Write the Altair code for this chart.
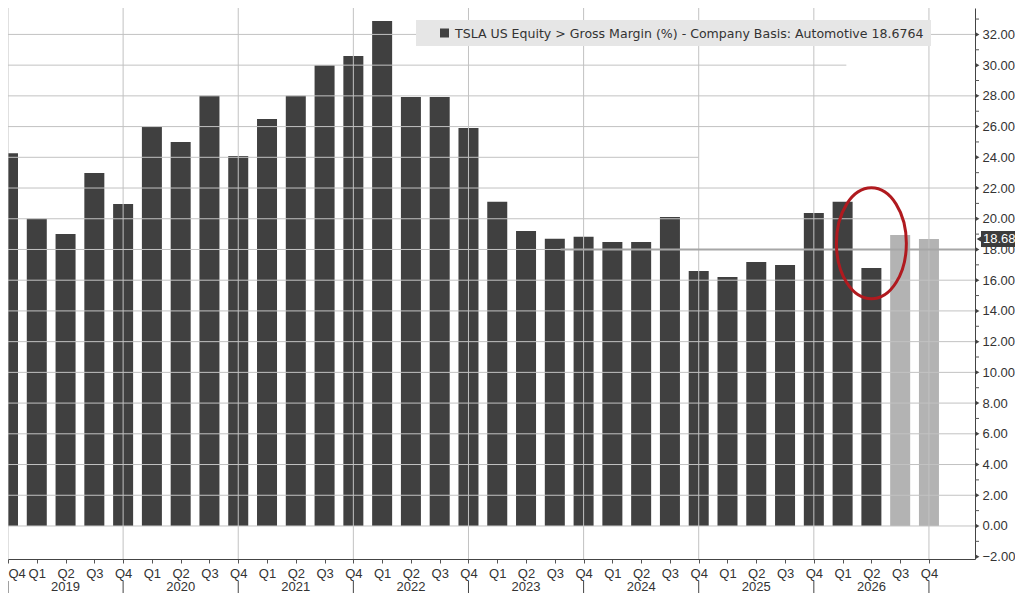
import altair as alt
import pandas as pd

# ---------------- data ----------------
quarters = ["Q4",
            "Q1", "Q2", "Q3", "Q4",
            "Q1", "Q2", "Q3", "Q4",
            "Q1", "Q2", "Q3", "Q4",
            "Q1", "Q2", "Q3", "Q4",
            "Q1", "Q2", "Q3", "Q4",
            "Q1", "Q2", "Q3", "Q4",
            "Q1", "Q2", "Q3", "Q4",
            "Q1", "Q2", "Q3", "Q4"]
margins = [24.26,
           20.0, 19.0, 22.98, 20.96,
           25.98, 25.0, 28.0, 24.09,
           26.5, 28.0, 30.0, 30.6,
           32.88, 27.93, 27.93, 25.9,
           21.1, 19.2, 18.7, 18.83,
           18.49, 18.49, 20.12, 16.6,
           16.21, 17.19, 16.99, 20.38,
           21.1, 16.8, 18.95, 18.6764]
kinds = ["Actual"] * 31 + ["Estimate"] * 2
years = ["2019", "2020", "2021", "2022", "2023", "2024", "2025", "2026"]
year_centers = [2, 6, 10, 14, 18, 22, 26, 30]
year_separators = [0, 4, 8, 12, 16, 20, 24, 28, 32]
grid_levels = [0, 2, 4, 6, 8, 10, 12, 14, 16, 18, 20, 22, 24, 26, 28, 30, 32]
grid_partial_end = {30: 29.13, 24: 23.99}
major_ticks = [-2, 0, 2, 4, 6, 8, 10, 12, 14, 16, 18, 20, 22, 24, 26, 28, 30, 32]
minor_ticks = [-1, 1, 3, 5, 7, 9, 11, 13, 15, 17, 19, 21, 23, 25, 27, 29, 31, 33]
last_value = 18.6764
legend_text = "TSLA US Equity > Gross Margin (%) - Company Basis: Automotive  18.6764"

# ---------------- layout ----------------
W, H = 967, 551
X_MIN, X_MAX = 0.0, 33.6
Y_MIN, Y_MAX = -2.15, 33.72
HALF = 0.3475
FONT = "Liberation Sans, Arial, sans-serif"
LFONT = "DejaVu Sans, sans-serif"
TXT = "#333333"

xs = alt.Scale(domain=[X_MIN, X_MAX], nice=False, zero=False)
ys = alt.Scale(domain=[Y_MIN, Y_MAX], nice=False, zero=False)

df = pd.DataFrame({"idx": list(range(len(margins))), "q": quarters,
                   "value": margins, "kind": kinds})
df["x0"] = df["idx"] - HALF
df["x1"] = df["idx"] + HALF

grid_df = pd.DataFrame({"level": grid_levels})
grid_df["start"] = X_MIN
grid_df["end"] = [grid_partial_end.get(l, X_MAX) for l in grid_levels]

label_arr = "[" + ",".join("'%s'" % q for q in quarters) + "]"

x_axis = alt.Axis(values=list(range(len(quarters))), labelExpr=label_arr + "[datum.value]",
                  orient="bottom", tickSize=4, tickColor="#555555", domainColor="#444444",
                  labelFont=FONT, labelFontSize=13, labelColor=TXT, labelPadding=4,
                  grid=False, title=None, labelFlush=False, labelOverlap=False,
                  labelAlign={"condition": {"test": "datum.value == 0", "value": "left"},
                              "value": "center"})
y_axis = alt.Axis(values=major_ticks, format=".2f", orient="right", tickSize=0,
                  labelPadding=7, domainColor="#444444", grid=False, title=None,
                  labelFont=FONT, labelFontSize=13, labelColor=TXT, labelFlush=False,
                  labelOverlap=False)


def X(field):
    return alt.X(field, scale=xs, axis=x_axis)


def Y(field):
    return alt.Y(field, scale=ys, axis=y_axis)


bars = alt.Chart(df).mark_bar(clip=True).encode(
    x=X("x0:Q"),
    x2="x1:Q",
    y=Y("value:Q"),
    y2=alt.datum(0),
    color=alt.Color("kind:N", scale=alt.Scale(domain=["Actual", "Estimate"],
                                              range=["#404040", "#b3b3b3"]), legend=None))

hgrid = alt.Chart(grid_df).mark_rule(color="#c2c2c2", strokeWidth=1).encode(
    x=X("start:Q"), x2="end:Q", y=Y("level:Q"))

vgrid = alt.Chart(pd.DataFrame({"s": year_separators})).mark_rule(
    color="#c2c2c2", strokeWidth=1).encode(
    x=X("s:Q"), y=alt.value(0), y2=alt.value(H))

line18 = alt.Chart(pd.DataFrame({"a": [19.2], "b": [X_MAX], "v": [18]})).mark_rule(
    color="#a6a6a6", strokeWidth=2).encode(
    x=X("a:Q"), x2="b:Q", y=Y("v:Q"))

year_txt = alt.Chart(pd.DataFrame({"c": year_centers, "y": years})).mark_text(
    font=FONT, fontSize=13, color=TXT, baseline="middle", align="center").encode(
    x=X("c:Q"), y=alt.value(H + 28), text="y:N")

seps = alt.Chart(pd.DataFrame({"s": year_separators})).mark_rule(
    color="#444444", strokeWidth=1).encode(
    x=X("s:Q"), y=alt.value(H + 22), y2=alt.value(H + 34))

minor = alt.Chart(pd.DataFrame({"v": minor_ticks})).mark_rule(
    color="#555555", strokeWidth=1).encode(
    x=alt.value(W), x2=alt.value(W + 4), y=Y("v:Q"))

major = alt.Chart(pd.DataFrame({"v": major_ticks})).mark_point(
    shape="triangle-right", filled=True, size=20, color="#444444", opacity=1).encode(
    x=alt.value(W + 2.5), y=Y("v:Q"))

one = pd.DataFrame({"k": [0]})
leg_box = alt.Chart(one).mark_rect(color="#e6e6e6").encode(
    x=alt.value(408), x2=alt.value(923), y=alt.value(12), y2=alt.value(38))
leg_sq = alt.Chart(one).mark_square(size=81, color="#404040", opacity=1).encode(
    x=alt.value(436.5), y=alt.value(25))
leg_txt = alt.Chart(pd.DataFrame({"t": [legend_text]})).mark_text(
    font=LFONT, fontSize=12.55, color=TXT, align="left", baseline="middle").encode(
    x=alt.value(447), y=alt.value(25.5), text="t:N")

ellipse = alt.Chart(pd.DataFrame({"i": [30], "v": [18.4]})).mark_point(
    shape="M -0.63 0 A 0.63 1 0 1 0 0.63 0 A 0.63 1 0 1 0 -0.63 0 Z",
    size=12321, filled=False, stroke="#b01a1f", strokeWidth=3, opacity=1).encode(
    x=X("i:Q"), y=Y("v:Q"))

lv = pd.DataFrame({"v": [last_value], "hi": [last_value + 0.52], "lo": [last_value - 0.52],
                   "t": ["%.2f" % last_value]})
lv_box = alt.Chart(lv).mark_rect(color="#3c3c3c").encode(
    x=alt.value(W + 6), x2=alt.value(W + 40), y=Y("hi:Q"), y2="lo:Q")
lv_arrow = alt.Chart(lv).mark_point(shape="triangle-left", filled=True, size=60,
                                     color="#3c3c3c", opacity=1).encode(
    x=alt.value(W + 5), y=Y("v:Q"))
lv_txt = alt.Chart(lv).mark_text(font=FONT, fontSize=13, color="#ffffff", align="left",
                                 baseline="middle").encode(
    x=alt.value(W + 8), y=Y("v:Q"), text="t:N")

chart = alt.layer(
    bars, hgrid, vgrid, line18, year_txt, seps, minor, major,
    leg_box, leg_sq, leg_txt, ellipse, lv_box, lv_arrow, lv_txt
).properties(
    width=W, height=H,
    autosize=alt.AutoSizeParams(type="none"),
    padding={"left": 0, "top": 0, "right": 40, "bottom": 34},
    background="#ffffff"
).configure_view(stroke="transparent")

chart.save("out.html", embed_options={"renderer": "svg", "actions": False})
